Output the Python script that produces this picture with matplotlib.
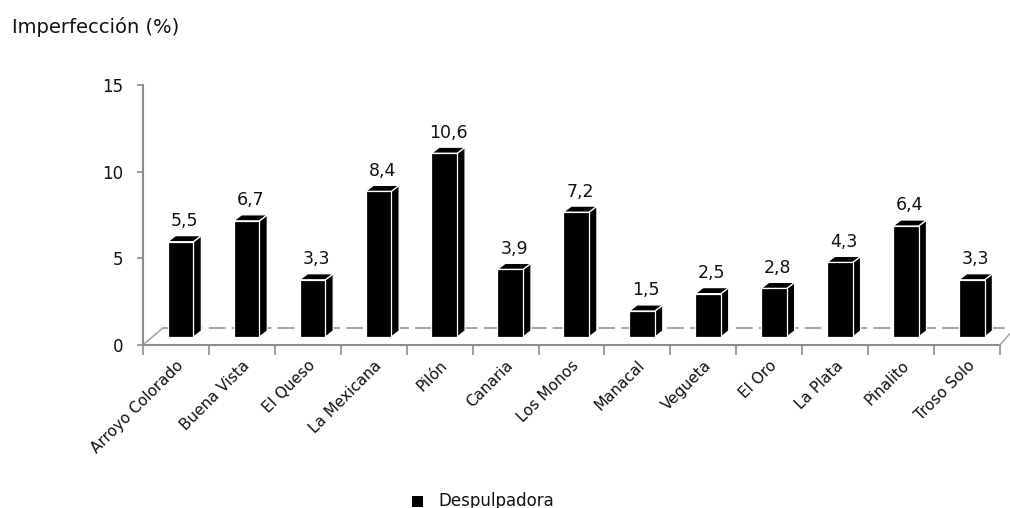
#!/bin/env python3
import numpy as np
from matplotlib import pyplot as plt
from matplotlib.patches import Polygon

# data
categories = ['Arroyo Colorado', 'Buena Vista', 'El Queso', 'La Mexicana', 'Pilón',
              'Canaria', 'Los Monos', 'Manacal', 'Vegueta', 'El Oro', 'La Plata',
              'Pinalito', 'Troso Solo']
imperfeccion = [5.5, 6.7, 3.3, 8.4, 10.6, 3.9, 7.2, 1.5, 2.5, 2.8, 4.3, 6.4, 3.3]
value_labels = ['5,5', '6,7', '3,3', '8,4', '10,6', '3,9', '7,2', '1,5', '2,5', '2,8',
                '4,3', '6,4', '3,3']
yticks = [0, 5, 10, 15]
series_name = 'Despulpadora'
ylabel = 'Imperfección (%)'


def main():
    plt.rcParams['font.family'] = ['DejaVu Sans']
    fig = plt.figure(figsize=(10.1, 5.08), dpi=100)
    ax = fig.add_axes([0.1416, 0.3209, 0.8485, 0.5118])

    n = len(categories)
    ax.set_xlim(0, n)
    ax.set_ylim(0, 15)

    # fake 3d geometry (data units)
    width = 0.39
    shift_x = 0.07      # front face shift from category centre
    base = 0.46         # bars stand half way into the floor
    dx, dy = 0.12, 0.35  # bar depth
    fx, fy = 0.30, 0.98  # floor depth

    grey = '#8c8c8c'
    # floor
    ax.plot([0, n], [0, 0], color=grey, lw=1.5, clip_on=False, zorder=1)
    ax.plot([fx, n + fx], [fy, fy], color='#a8a8a8', lw=1.5, ls=(0, (8, 3)), clip_on=False, zorder=1)
    ax.plot([0, fx], [0, fy], color='#a8a8a8', lw=1.2, clip_on=False, zorder=1)
    ax.plot([n, n + fx * 0.6], [0, fy * 0.8], color='#a8a8a8', lw=1.2, clip_on=False, zorder=1)

    x = np.arange(n) + 0.5 + shift_x
    ax.bar(x, imperfeccion, width=width, bottom=base, color='black',
           edgecolor='white', linewidth=0.9, zorder=4)
    for xi, v, lab in zip(x, imperfeccion, value_labels):
        x0 = xi - width / 2
        x1 = xi + width / 2
        top = base + v
        side = Polygon([(x1, base), (x1 + dx, base + dy), (x1 + dx, top + dy), (x1, top)],
                       closed=True, facecolor='black', edgecolor='white', lw=0.9, zorder=3)
        roof = Polygon([(x0, top), (x1, top), (x1 + dx, top + dy), (x0 + dx, top + dy)],
                       closed=True, facecolor='black', edgecolor='white', lw=0.9, zorder=3)
        ax.add_patch(side)
        ax.add_patch(roof)
        ax.text(xi + dx / 2, top + dy + 0.55, lab, ha='center', va='baseline',
                fontsize=12.5, color='#111111', zorder=5)

    # axes
    for s in ['top', 'right', 'bottom']:
        ax.spines[s].set_visible(False)
    ax.spines['left'].set_color(grey)
    ax.spines['left'].set_linewidth(1.5)
    ax.set_yticks(yticks)
    ax.set_yticklabels([str(t) for t in yticks], fontsize=12, color='#111111')
    ax.tick_params(axis='y', length=4, width=1.2, color=grey, pad=10)
    ax.set_xticks(np.arange(n + 1))
    ax.set_xticklabels([])
    ax.tick_params(axis='x', length=7, width=1.2, color=grey, direction='out')

    for i, name in enumerate(categories):
        ax.text(i + 0.5, -0.75, name, rotation=45, rotation_mode='anchor',
                ha='right', va='top', fontsize=11, color='#111111', clip_on=False)

    fig.text(12 / 1010, 1 - 33 / 508, ylabel, fontsize=14, color='#111111', va='baseline')

    # legend
    fig.patches.append(plt.Rectangle((412 / 1010, 1 - 507 / 508), 11 / 1010, 11 / 508,
                                     transform=fig.transFigure, facecolor='black',
                                     edgecolor='none'))
    fig.text(438 / 1010, 1 - 501 / 508, series_name, fontsize=12, color='#111111', va='center')

    fig.savefig('out.png', dpi=100)
    return 0


if __name__ == '__main__':
    main()
